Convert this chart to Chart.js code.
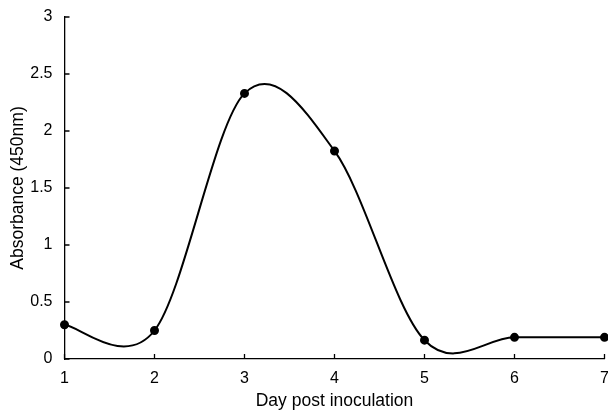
<!DOCTYPE html>
<html>
<head>
<meta charset="utf-8">
<script src="https://cdn.jsdelivr.net/npm/chart.js@4"></script>
<style>
  html, body { margin: 0; padding: 0; background: #fff; }
  #wrap { width: 608px; height: 412px; }
</style>
</head>
<body>
<div id="wrap"><canvas id="myChart"></canvas></div>
<script>
// data
const days = [1, 2, 3, 4, 5, 6, 7];
const absorbance = [0.30, 0.25, 2.33, 1.825, 0.165, 0.19, 0.19];

const xTitle = 'Day post inoculation';
const yTitle = 'Absorbance (450nm)';

// excel style smoothing: catmull-rom control points (1/6 of neighbour span)
const excelSmooth = {
    id: 'excelSmooth',
    beforeDatasetsDraw(chart) {
        const meta = chart.getDatasetMeta(0);
        const pts = meta.data;
        for (let i = 0; i < pts.length; i++) {
            const p = pts[i];
            const prev = pts[i - 1] || p;
            const next = pts[i + 1] || p;
            const dx = (next.x - prev.x) / 6;
            const dy = (next.y - prev.y) / 6;
            p.cp1x = p.x - dx;
            p.cp1y = p.y - dy;
            p.cp2x = p.x + dx;
            p.cp2y = p.y + dy;
        }
        meta.dataset._pointsUpdated = true;
        meta.dataset._path = undefined;
    }
};

// inward tick marks, like the original
const innerTicks = {
    id: 'innerTicks',
    afterDraw(chart) {
        const ctx = chart.ctx;
        const x = chart.scales.x;
        const y = chart.scales.y;
        const a = chart.chartArea;
        ctx.save();
        ctx.strokeStyle = '#000';
        ctx.lineWidth = 1.3;
        ctx.beginPath();
        x.ticks.forEach(t => {
            const px = x.getPixelForValue(t.value);
            ctx.moveTo(px, a.bottom);
            ctx.lineTo(px, a.bottom - 5);
        });
        y.ticks.forEach(t => {
            const py = y.getPixelForValue(t.value);
            ctx.moveTo(a.left, py);
            ctx.lineTo(a.left + 5, py);
        });
        ctx.stroke();
        ctx.restore();
    }
};

const data = {
    datasets: [{
        data: days.map((d, i) => ({ x: d, y: absorbance[i] })),
        borderColor: '#000',
        backgroundColor: '#000',
        borderWidth: 2,
        pointRadius: 3.5,
        pointHoverRadius: 3.5,
        tension: 0.4,
        clip: false
    }]
};

const tickFont = { family: 'Liberation Sans, Arial, sans-serif', size: 16 };
const titleFont = { family: 'Liberation Sans, Arial, sans-serif', size: 17.5 };

const scales = {
    x: {
        type: 'linear',
        min: 1,
        max: 7,
        ticks: { stepSize: 1, color: '#000', font: tickFont, padding: 10 },
        grid: { display: true, drawOnChartArea: false, drawTicks: false },
        border: { color: '#000', width: 1.3 },
        title: { display: true, text: xTitle, color: '#000', font: titleFont, padding: { top: 0, bottom: 0 } },
        afterFit(s) {
            s.height = 53;
            s.paddingLeft = 0;
            s.paddingRight = 0;
        }
    },
    y: {
        type: 'linear',
        min: 0,
        max: 3,
        ticks: {
            stepSize: 0.5,
            color: '#000',
            font: tickFont,
            padding: 12,
            callback: v => String(v)
        },
        grid: { display: true, drawOnChartArea: false, drawTicks: false },
        border: { color: '#000', width: 1.3 },
        title: { display: true, text: yTitle, color: '#000', font: titleFont, padding: { top: 8, bottom: 0 } },
        afterFit(s) {
            s.width = 64.5;
            s.paddingTop = 0;
            s.paddingBottom = 0;
        }
    }
};

const config = {
    type: 'line',
    data,
    options: {
        responsive: true,
        maintainAspectRatio: false,
        animation: false,
        layout: { autoPadding: false, padding: { top: 17, right: 3.5, left: 0, bottom: 0 } },
        scales: scales,
        plugins: {
            legend: { display: false },
            tooltip: { enabled: false }
        }
    },
    plugins: [excelSmooth, innerTicks]
};

const myChart = new Chart(document.getElementById('myChart'), config);
</script>
</body>
</html>
